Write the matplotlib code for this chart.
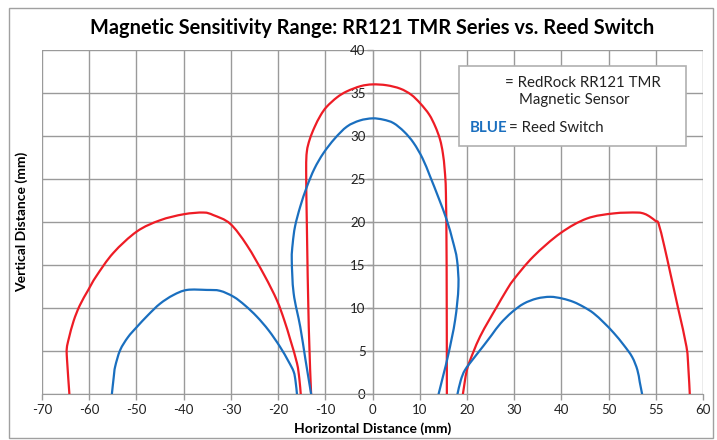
import numpy as np
import matplotlib.pyplot as plt
from matplotlib.patches import Rectangle, PathPatch
from matplotlib.path import Path

# x tick positions (the axis is evenly spaced, the last two labels are 55 / 60)
xtick_pos = [-70, -60, -50, -40, -30, -20, -10, 0, 10, 20, 30, 40, 50, 60, 70]
xtick_lab = ['-70', '-60', '-50', '-40', '-30', '-20', '-10', '0', '10', '20',
             '30', '40', '50', '55', '60']
ytick_pos = [0, 5, 10, 15, 20, 25, 30, 35, 40]

# RedRock RR121 TMR (red) lobes
red_left_x = [-64.2, -64.7, -64.75, -64.3, -63.3, -62.0, -60.2, -58.5, -54.9, -49.9,
              -45.0, -40.0, -35.8, -33.7, -30.15, -26.6, -22.9, -20.25, -18.7, -17.4,
              -16.0, -15.5, -15.2]
red_left_y = [0, 4.0, 5.3, 6.5, 8.5, 10.3, 12.1, 13.7, 16.4, 18.9,
              20.2, 20.9, 21.1, 20.8, 19.8, 17.3, 13.8, 10.9, 8.6, 6.3,
              3.6, 1.8, 0]

red_mid_x = [-13.0, -13.5, -13.9, -14.05, -13.9, -13.3, -12.3, -11.0, -9.7, -7.5, -5.4,
             -2.5, 0, 3.0, 5.9, 8.2, 10.1, 12.0, 13.3, 14.3, 14.9, 15.3, 15.55, 15.7, 15.75]
red_mid_y = [0, 7.8, 19.5, 26.0, 28.2, 29.6, 31.0, 32.4, 33.4, 34.5, 35.2,
             35.8, 36.0, 35.9, 35.5, 34.8, 33.8, 32.5, 31.1, 29.6, 28.0, 26.0, 23.3, 15.0, 0]

red_right_x = [19.15, 20.0, 21.3, 22.8, 24.6, 26.4, 28.1, 29.9, 34.1, 39.8, 45.4, 51.1,
               56.0, 57.6, 58.8, 60.0, 60.6, 61.8, 63.1, 64.8, 66.5, 66.9, 67.2]
red_right_y = [0, 2.8, 4.8, 6.7, 8.5, 10.2, 11.8, 13.3, 16.0, 18.7, 20.4, 21.0,
               21.1, 20.95, 20.6, 20.1, 19.8, 17.2, 14.0, 9.8, 5.5, 3.0, 0]

# Reed switch (blue) lobes
blue_left_x = [-55.2, -54.8, -54.5, -53.45, -51.8, -49.9, -47.5, -45.0, -42.2, -39.3,
               -35.1, -32.3, -29.4, -27.0, -24.5, -22.0, -19.6, -17.8, -16.7, -16.3, -16.0]
blue_left_y = [0, 2.0, 3.2, 5.1, 6.6, 7.8, 9.2, 10.5, 11.5, 12.1,
               12.1, 12.0, 11.3, 10.3, 9.0, 7.4, 5.5, 3.8, 2.6, 1.5, 0]

blue_mid_x = [-13.0, -14.2, -15.3, -16.7, -17.1, -16.9, -16.4, -15.3, -13.9, -12.3, -10.4,
              -8.0, -5.4, -2.7, 0, 2.3, 4.45, 6.7, 8.7, 10.6, 12.2, 14.0, 15.75, 17.0,
              17.9, 18.2, 17.5, 16.1, 15.0, 14.0]
blue_mid_y = [0, 4.0, 7.8, 11.7, 15.6, 17.5, 19.5, 21.8, 24.1, 26.2, 28.0,
              29.7, 31.1, 31.8, 32.05, 31.9, 31.5, 30.5, 29.2, 27.4, 25.3, 22.8, 20.2, 17.8,
              15.6, 12.5, 8.6, 4.7, 2.2, 0]

blue_right_x = [18.0, 18.7, 19.6, 21.5, 23.5, 25.3, 27.1, 29.5, 32.0, 34.8, 37.65, 40.2,
                42.6, 44.8, 46.8, 49.0, 51.1, 53.2, 55.0, 56.1, 56.6, 57.1]
blue_right_y = [0, 1.6, 2.8, 4.2, 5.6, 6.9, 8.2, 9.5, 10.5, 11.1, 11.3, 11.1,
                10.7, 10.1, 9.4, 8.3, 7.1, 5.7, 4.3, 2.8, 1.4, 0]

RED = '#ee1c25'
BLUE = '#1a6fbf'
GRID = '#9a9a9a'


def smooth_path(xs, ys):
    # Excel-style smoothed line: cubic bezier through every point (catmull-rom handles)
    p = np.column_stack([xs, ys]).astype(float)
    n = len(p)
    verts = [p[0]]
    codes = [Path.MOVETO]
    for i in range(n - 1):
        p0 = p[i - 1] if i > 0 else p[i]
        p3 = p[i + 2] if i + 2 < n else p[i + 1]
        c1 = p[i] + (p[i + 1] - p0) / 6.0
        c2 = p[i + 1] - (p3 - p[i]) / 6.0
        verts += [c1, c2, p[i + 1]]
        codes += [Path.CURVE4] * 3
    return Path(verts, codes)


plt.rcParams['font.family'] = ['Lato', 'DejaVu Sans']

fig = plt.figure(figsize=(7.17, 4.4), dpi=100)
ax = fig.add_axes([42/717, 1 - 394/440, 661/717, 344/440])

for xs, ys in [(red_left_x, red_left_y), (red_mid_x, red_mid_y), (red_right_x, red_right_y)]:
    ax.add_patch(PathPatch(smooth_path(xs, ys), fill=False, edgecolor=RED, lw=1.6,
                           zorder=3, capstyle='round', joinstyle='round'))
for xs, ys in [(blue_left_x, blue_left_y), (blue_mid_x, blue_mid_y), (blue_right_x, blue_right_y)]:
    ax.add_patch(PathPatch(smooth_path(xs, ys), fill=False, edgecolor=BLUE, lw=1.6,
                           zorder=3, capstyle='round', joinstyle='round'))

ax.set_xlim(-70, 70)
ax.set_ylim(0, 40)
ax.set_xticks(xtick_pos)
ax.set_xticklabels(xtick_lab)
ax.set_yticks(ytick_pos)
ax.grid(True, color=GRID, lw=1)
ax.set_axisbelow(True)

for s in ['top', 'right']:
    ax.spines[s].set_visible(False)
ax.spines['left'].set_position(('data', 0))
ax.spines['left'].set_color(GRID)
ax.spines['bottom'].set_color(GRID)
ax.tick_params(axis='both', colors=GRID, labelcolor='#222222', labelsize=9.5,
               length=4, width=1)
ax.tick_params(axis='y', pad=1)

ax.set_xlabel('Horizontal Distance (mm)', fontsize=10, fontweight='bold', labelpad=4)
fig.text(22/717, 1 - 222/440, 'Vertical Distance (mm)', rotation=90, fontsize=10,
         fontweight='bold', ha='center', va='center')
fig.text(372/717, 1 - 28/440, 'Magnetic Sensitivity Range: RR121 TMR Series vs. Reed Switch',
         fontsize=14.4, fontweight='bold', ha='center', va='center')

# legend box
ax.add_patch(Rectangle((0.631, 0.721), 0.343, 0.232, transform=ax.transAxes,
                       facecolor='white', edgecolor='#b0b0b0', lw=1.2, zorder=5))
ax.text(0.700, 0.904, '= RedRock RR121 TMR', transform=ax.transAxes, fontsize=10.8,
        va='center', ha='left', zorder=6, color='#222222')
ax.text(0.722, 0.855, 'Magnetic Sensor', transform=ax.transAxes, fontsize=10.8,
        va='center', ha='left', zorder=6, color='#222222')
ax.text(0.647, 0.773, 'BLUE', transform=ax.transAxes, fontsize=10.8, fontweight='bold',
        va='center', ha='left', zorder=6, color=BLUE)
ax.text(0.7065, 0.773, '= Reed Switch', transform=ax.transAxes, fontsize=10.8,
        va='center', ha='left', zorder=6, color='#222222')

# chart border
fig.patches.append(Rectangle((9/717, 2/440), 704/717, 430/440, transform=fig.transFigure,
                             fill=False, edgecolor='#a0a0a0', lw=1))

fig.savefig('out.png', dpi=100)
